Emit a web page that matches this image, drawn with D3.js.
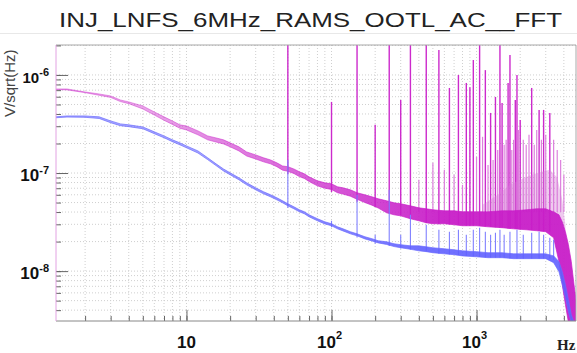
<!DOCTYPE html>
<html lang="en">
<head>
<meta charset="UTF-8" />
<title>INJ_LNFS_6MHz_RAMS_OOTL_AC__FFT</title>
<style>
  body { margin: 0; background: #fff; }
  svg { display: block; font-family: "Liberation Sans", Arial, sans-serif; }
</style>
</head>
<body>
<svg id="container" width="577" height="353"></svg>
<script src="https://cdn.jsdelivr.net/npm/d3@7"></script>
<script>
  // frequency grid (Hz) the two traces were read at
  const freqs = [1.25, 1.5, 2, 2.5, 3, 3.5, 4, 5, 6, 7, 8, 9, 10, 12, 14, 16, 18, 20, 23, 26, 30, 34, 38, 42, 46,
    50, 55, 60, 65, 70, 80, 90, 100, 110, 120, 135, 150, 170, 190, 210, 240, 270, 300, 350, 400, 450, 500,
    600, 700, 800, 1000, 1200, 1500, 1800, 2200, 2600, 3000, 3400, 3700, 3900, 4100, 4300, 4500, 4700, 4850];

  // magenta trace: upper / lower edge of the noisy band (V/sqrt(Hz))
  const magentaHi = [7.2e-7, 7.2e-7, 6.71e-7, 6.4e-7, 6.11e-7, 5.56e-7, 5.31e-7, 4.83e-7, 4.2e-7, 3.74e-7, 3.4e-7, 3.1e-7,
    3.02e-7, 2.69e-7, 2.39e-7, 2.28e-7, 2.18e-7, 2.03e-7, 1.85e-7, 1.64e-7, 1.53e-7, 1.43e-7, 1.36e-7, 1.27e-7, 1.18e-7,
    1.16e-7, 1.1e-7, 1.03e-7, 9.81e-8, 9.15e-8, 8.33e-8, 7.95e-8, 7.76e-8, 7.24e-8, 7.07e-8, 6.74e-8, 6.29e-8, 6.0e-8,
    5.72e-8, 5.46e-8, 5.21e-8, 4.97e-8, 4.86e-8, 4.63e-8, 4.42e-8, 4.32e-8, 4.22e-8, 4.12e-8, 4.12e-8, 4.03e-8, 4.03e-8,
    4.03e-8, 4.12e-8, 4.12e-8, 4.22e-8, 4.32e-8, 4.32e-8, 4.03e-8, 3.75e-8, 3.18e-8, 2.52e-8, 1.86e-8, 1.25e-8, 7.27e-9, 5.11e-9];
  const magentaLo = [7.1e-7, 7.04e-7, 6.6e-7, 6.2e-7, 5.9e-7, 5.35e-7, 5.1e-7, 4.5e-7, 3.9e-7, 3.45e-7, 3.13e-7, 2.86e-7,
    2.75e-7, 2.45e-7, 2.18e-7, 2.07e-7, 1.98e-7, 1.85e-7, 1.68e-7, 1.49e-7, 1.39e-7, 1.3e-7, 1.24e-7, 1.16e-7, 1.07e-7,
    1.04e-7, 9.9e-8, 9.2e-8, 8.8e-8, 8.2e-8, 7.4e-8, 7.0e-8, 6.8e-8, 6.3e-8, 6.1e-8, 5.8e-8, 5.4e-8, 5.0e-8,
    4.7e-8, 4.4e-8, 3.93e-8, 3.75e-8, 3.66e-8, 3.42e-8, 3.26e-8, 3.11e-8, 3.04e-8, 3.04e-8, 2.97e-8, 2.9e-8, 2.9e-8,
    2.83e-8, 2.77e-8, 2.7e-8, 2.64e-8, 2.58e-8, 2.52e-8, 2.19e-8, 1.25e-8, 7.27e-9, 4.55e-9, 3.0e-9, 3.0e-9, 3.0e-9, 3.0e-9];

  // blue trace
  const blueHi = [3.74e-7, 3.82e-7, 3.82e-7, 3.74e-7, 3.4e-7, 3.17e-7, 3.1e-7, 2.95e-7, 2.63e-7, 2.39e-7, 2.18e-7, 2.03e-7,
    1.89e-7, 1.68e-7, 1.43e-7, 1.24e-7, 1.1e-7, 1.005e-7, 8.94e-8, 7.95e-8, 7.07e-8, 6.44e-8, 6.0e-8, 5.59e-8, 5.21e-8,
    4.86e-8, 4.53e-8, 4.22e-8, 4.03e-8, 3.75e-8, 3.42e-8, 3.18e-8, 3.04e-8, 2.83e-8, 2.7e-8, 2.52e-8, 2.4e-8, 2.24e-8,
    2.14e-8, 2.04e-8, 1.99e-8, 1.9e-8, 1.86e-8, 1.81e-8, 1.81e-8, 1.77e-8, 1.73e-8, 1.69e-8, 1.65e-8, 1.61e-8, 1.58e-8,
    1.54e-8, 1.54e-8, 1.5e-8, 1.5e-8, 1.5e-8, 1.5e-8, 1.43e-8, 1.25e-8, 9.86e-9, 7.27e-9, 5.11e-9, 3.6e-9, 3.0e-9, 3.0e-9];
  const blueLo = [3.66e-7, 3.72e-7, 3.7e-7, 3.6e-7, 3.26e-7, 3.04e-7, 2.97e-7, 2.83e-7, 2.52e-7, 2.29e-7, 2.09e-7, 1.94e-7,
    1.81e-7, 1.6e-7, 1.37e-7, 1.19e-7, 1.05e-7, 9.6e-8, 8.53e-8, 7.58e-8, 6.74e-8, 6.14e-8, 5.72e-8, 5.33e-8, 4.97e-8,
    4.63e-8, 4.32e-8, 4.03e-8, 3.84e-8, 3.58e-8, 3.26e-8, 3.03e-8, 2.9e-8, 2.7e-8, 2.57e-8, 2.4e-8, 2.29e-8, 2.13e-8,
    2.03e-8, 1.94e-8, 1.87e-8, 1.78e-8, 1.73e-8, 1.67e-8, 1.61e-8, 1.58e-8, 1.54e-8, 1.5e-8, 1.47e-8, 1.43e-8, 1.4e-8,
    1.37e-8, 1.37e-8, 1.34e-8, 1.34e-8, 1.34e-8, 1.34e-8, 1.22e-8, 9.86e-9, 7.27e-9, 5.36e-9, 3.86e-9, 3.0e-9, 3.0e-9, 3.0e-9];

  // strong magenta lines (mains harmonics)
  const magSpikeFreq = [50, 100, 150, 200, 250, 300, 350, 450, 550, 650, 750, 850, 900, 950, 1050, 1150, 1250, 1350,
    1450, 1500, 1650, 1700, 1850, 1900, 2000, 2400, 2700, 2900, 3200];
  const magSpikePeak = [2.5e-6, 5.31e-7, 2.5e-6, 3.1e-7, 2.5e-6, 5.56e-7, 2.5e-6, 2.5e-6, 1.8e-6, 7.37e-7, 1.0e-6, 8.29e-7,
    7.5e-7, 1.42e-6, 2.5e-6, 1.12e-6, 4.1e-7, 5.97e-7, 2.5e-6, 5.19e-7, 8.29e-7, 1.6e-6, 5.56e-7, 1.0e-6, 3.48e-7,
    7.37e-7, 4.4e-7, 4.4e-7, 4.1e-7];
  const magSpikeBase = [9.8e-8, 6.4e-8, 5.1e-8, 4.5e-8, 3.9e-8, 3.7e-8, 3.4e-8, 3.1e-8, 3.0e-8, 3.0e-8, 2.95e-8, 2.9e-8,
    2.9e-8, 2.9e-8, 2.9e-8, 2.85e-8, 2.83e-8, 2.8e-8, 2.77e-8, 2.77e-8, 2.72e-8, 2.7e-8, 2.7e-8, 2.68e-8, 2.66e-8,
    2.62e-8, 2.58e-8, 2.55e-8, 2.52e-8];

  // fainter magenta lines above the band
  const paleSpikeFreq = [400, 500, 600, 700, 800, 1000, 1100, 1200, 1300, 1400, 1550, 1600, 1750, 1800, 1950, 2100,
    2200, 2300, 2500, 2600, 2800, 3000, 3400, 3600, 3800, 4000];
  const paleSpikePeak = [8.52e-8, 1.27e-7, 1.08e-7, 9.59e-8, 7.58e-8, 1.46e-7, 2.34e-7, 1.21e-7, 1.36e-7, 1.72e-7, 1.94e-7,
    2.18e-7, 1.72e-7, 2.18e-7, 2.75e-7, 2.18e-7, 1.94e-7, 2.45e-7, 1.94e-7, 2.75e-7, 2.18e-7, 2.45e-7, 2.18e-7, 1.72e-7,
    1.36e-7, 9.59e-8];
  const paleSpikeBase = 4.0e-8;

  // dense pale pink forest of lines between 1 and 4 kHz
  const forestFreq = [1100, 1400, 1700, 2000, 2400, 2800, 3200, 3600, 3900, 4100];
  const forestHi = [4.74e-8, 6.0e-8, 7.58e-8, 8.52e-8, 9.59e-8, 1.03e-7, 1.08e-7, 9.0e-8, 5.33e-8, 2.97e-8];
  const forestLo = [4.1e-8, 4.1e-8, 4.1e-8, 4.2e-8, 4.3e-8, 4.3e-8, 4.3e-8, 3.75e-8, 3.18e-8, 2.52e-8];

  // blue lines
  const blueSpikeFreq = [50, 100, 150, 200, 250, 300, 350, 450, 550, 650, 750, 850, 950, 1050, 1150, 1250, 1350, 1450,
    1550, 1700, 1900, 2100, 2400, 2700, 2900, 3200, 3400];
  const blueSpikePeak = [1.36e-7, 3.26e-8, 6.0e-8, 2.35e-8, 6.74e-8, 2.35e-8, 3.75e-8, 2.97e-8, 2.64e-8, 2.52e-8, 2.64e-8,
    2.35e-8, 2.64e-8, 2.77e-8, 2.52e-8, 2.35e-8, 2.46e-8, 2.64e-8, 2.35e-8, 2.52e-8, 2.64e-8, 2.35e-8, 2.46e-8, 2.52e-8,
    2.35e-8, 2.19e-8, 2.09e-8];
  const blueSpikeBase = [4.4e-8, 2.8e-8, 2.2e-8, 1.9e-8, 1.8e-8, 1.7e-8, 1.65e-8, 1.58e-8, 1.5e-8, 1.48e-8, 1.46e-8,
    1.43e-8, 1.41e-8, 1.4e-8, 1.38e-8, 1.37e-8, 1.37e-8, 1.37e-8, 1.36e-8, 1.35e-8, 1.34e-8, 1.34e-8, 1.34e-8, 1.34e-8,
    1.34e-8, 1.34e-8, 1.3e-8];

  // labelled ticks
  const xTicks = [10, 100, 1000];
  const xTickExp = ["", "2", "3"];
  const yTicks = [1e-8, 1e-7, 1e-6];
  const yTickExp = ["-8", "-7", "-6"];

  const svg = d3.select("#container");
  const L = 56, R = 576, T = 45, B = 321;

  const x = d3.scaleLog().domain([1.26, 4850]).range([L, R]);
  const y = d3.scaleLog().domain([3.1e-9, 2.02e-6]).range([B, T]);

  // title
  svg.append("line").attr("x1", 0).attr("x2", 577).attr("y1", 33.5).attr("y2", 33.5)
    .attr("stroke", "#e8e8e8");
  svg.append("text").attr("x", 59).attr("y", 27)
    .attr("textLength", 503).attr("lengthAdjust", "spacingAndGlyphs")
    .style("font-size", "20px").style("fill", "#222")
    .text("INJ_LNFS_6MHz_RAMS_OOTL_AC__FFT");

  // dotted grid
  const grid = svg.append("g").attr("stroke", "#cfcfcf").attr("stroke-dasharray", "1,2");
  grid.selectAll(".gx").data(x.ticks()).enter().append("line")
    .attr("x1", d => x(d)).attr("x2", d => x(d)).attr("y1", T).attr("y2", B);
  grid.selectAll(".gy").data(y.ticks()).enter().append("line")
    .attr("y1", d => y(d)).attr("y2", d => y(d)).attr("x1", L).attr("x2", R);

  // data layer
  svg.append("clipPath").attr("id", "plot").append("rect")
    .attr("x", L).attr("y", T).attr("width", R - L).attr("height", B - T);
  const defs = svg.append("defs");
  function fade(id, color, f0, f1, o0, o1) {
    const g = defs.append("linearGradient").attr("id", id).attr("gradientUnits", "userSpaceOnUse")
      .attr("x1", x(f0)).attr("x2", x(f1)).attr("y1", 0).attr("y2", 0);
    g.append("stop").attr("offset", 0).attr("stop-color", color).attr("stop-opacity", o0);
    g.append("stop").attr("offset", 1).attr("stop-color", color).attr("stop-opacity", o1);
  }
  fade("magFade", "#c81ec8", 5, 600, 0.4, 0.95);
  fade("magEdge", "#c81ec8", 5, 300, 0.6, 1);
  fade("blueFade", "#6060ff", 10, 400, 0.55, 0.9);

  const body = svg.append("g").attr("clip-path", "url(#plot)");
  const band = (hi, lo) => d3.area()
    .x((d, i) => x(freqs[i])).y0((d, i) => y(lo[i])).y1((d, i) => y(hi[i]));

  // magenta
  body.append("g").attr("stroke", "#cc2acc").attr("stroke-width", 1.4)
    .selectAll("line").data(magSpikeFreq).enter().append("line")
    .attr("x1", d => x(d)).attr("x2", d => x(d))
    .attr("y1", (d, i) => y(magSpikePeak[i])).attr("y2", (d, i) => y(magSpikeBase[i]));
  body.append("g").attr("stroke", "#dd80dd").attr("stroke-width", 1.2)
    .selectAll("line").data(paleSpikeFreq).enter().append("line")
    .attr("x1", d => x(d)).attr("x2", d => x(d))
    .attr("y1", (d, i) => y(paleSpikePeak[i])).attr("y2", y(paleSpikeBase));
  body.append("path").datum(forestFreq)
    .attr("d", d3.area().x(d => x(d)).y0((d, i) => y(forestLo[i])).y1((d, i) => y(forestHi[i])))
    .attr("fill", "#d77ad7").attr("fill-opacity", 0.4);
  body.append("path").datum(freqs).attr("d", band(magentaHi, magentaLo))
    .attr("fill", "url(#magFade)").attr("stroke", "url(#magEdge)").attr("stroke-width", 0.7);

  // blue
  body.append("g").attr("stroke", "#8080ff").attr("stroke-width", 1.1)
    .selectAll("line").data(blueSpikeFreq).enter().append("line")
    .attr("x1", d => x(d)).attr("x2", d => x(d))
    .attr("y1", (d, i) => y(blueSpikePeak[i])).attr("y2", (d, i) => y(blueSpikeBase[i]));
  body.append("path").datum(freqs).attr("d", band(blueHi, blueLo))
    .attr("fill", "url(#blueFade)").attr("stroke", "#6a6aff").attr("stroke-width", 0.7);

  // frame
  svg.append("line").attr("x1", L).attr("x2", R).attr("y1", T).attr("y2", T).attr("stroke", "#a8a8a8");
  svg.append("line").attr("x1", R).attr("x2", R).attr("y1", T).attr("y2", B).attr("stroke", "#a8a8a8");

  // axes: ticks point into the plot
  function tickAxis(axis, values, size, at) {
    const g = svg.append("g").attr("transform", at)
      .call(axis.tickValues(values).tickSize(size).tickFormat(""));
    g.select(".domain").remove();
    g.selectAll("line").attr("stroke", "#666");
  }
  tickAxis(d3.axisRight(y), y.ticks(), 5, `translate(${L},0)`);
  tickAxis(d3.axisRight(y), yTicks, 12, `translate(${L},0)`);
  tickAxis(d3.axisTop(x), x.ticks(), 5, `translate(0,${B})`);
  tickAxis(d3.axisTop(x), xTicks, 11, `translate(0,${B})`);
  svg.append("line").attr("x1", L).attr("x2", R).attr("y1", B).attr("y2", B).attr("stroke", "#888");
  svg.append("line").attr("x1", L).attr("x2", L).attr("y1", T).attr("y2", B).attr("stroke", "#e2a2e2");

  // tick labels, powers of ten
  const yl = svg.append("g").style("font-weight", "bold").style("fill", "#111").attr("text-anchor", "end");
  yTicks.forEach((v, i) => {
    const t = yl.append("text").attr("x", 49).attr("y", y(v) + 8)
      .style("font-size", v === 1e-6 ? "15px" : "17px");
    t.append("tspan").text("10");
    t.append("tspan").attr("dy", -7).style("font-size", "11px").text(yTickExp[i]);
  });
  const xl = svg.append("g").style("font-weight", "bold").style("fill", "#111").attr("text-anchor", "middle");
  xTicks.forEach((v, i) => {
    const t = xl.append("text").attr("x", x(v) - (xTickExp[i] ? 2 : 0)).attr("y", 348).style("font-size", "17px");
    t.append("tspan").text("10");
    if (xTickExp[i]) t.append("tspan").attr("dy", -9).style("font-size", "11px").text(xTickExp[i]);
  });

  // axis titles
  svg.append("text").attr("transform", "translate(15,117) rotate(-90)")
    .style("font-size", "15px").style("fill", "#444").text("V/sqrt(Hz)");
  svg.append("text").attr("x", 557).attr("y", 350)
    .style("font-family", "'Liberation Serif', serif").style("font-weight", "bold")
    .style("font-size", "15px").style("fill", "#222").text("Hz");
</script>
</body>
</html>
